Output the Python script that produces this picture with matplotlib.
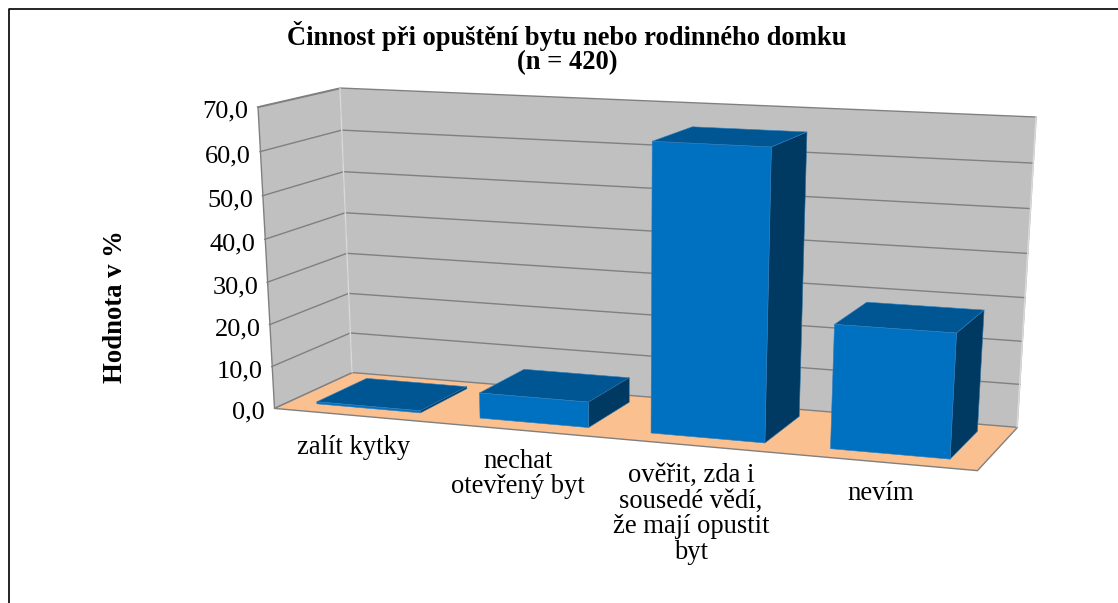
import numpy as np
import matplotlib
matplotlib.use('Agg')
import matplotlib.pyplot as plt
from matplotlib.lines import Line2D
from mpl_toolkits.mplot3d.art3d import Poly3DCollection

plt.rcParams['font.family'] = ['Liberation Serif', 'DejaVu Sans']

categories = ['zalít kytky', 'nechat\notevřený byt',
              'ověřit, zda i\nsousedé vědí,\nže mají opustit\nbyt', 'nevím']
values = [0.5, 6.0, 65.5, 28.0]
yticks = [0, 10, 20, 30, 40, 50, 60, 70]
ytick_labels = ['0,0', '10,0', '20,0', '30,0', '40,0', '50,0', '60,0', '70,0']
title = 'Činnost při opuštění bytu nebo rodinného domku\n(n = 420)'
ylabel = 'Hodnota v %'

W, H = 1118, 603

# box corners (cat, depth, value) and where they land in the picture, used to fit the camera
box = np.array([[0, 0, 0], [0, 1, 0], [0, 1, 70], [0, 0, 70], [4, 1, 70], [4, 1, 0], [4, 0, 0]], float)
pix = np.array([[274, 408], [352, 372], [340, 88], [257.5, 107], [1036, 117], [1017, 427], [977, 470]], float)


def fit_camera(world, image):
    rows = []
    for (x, y, z), (u, v) in zip(world, image):
        p = [x, y, z, 1]
        rows.append(p + [0, 0, 0, 0] + [-u * c for c in p])
        rows.append([0, 0, 0, 0] + p + [-v * c for c in p])
    s = np.array([1, 1, .05, 1] * 3)
    vt = np.linalg.svd(np.array(rows) * s)[2]
    cam = (vt[-1] * s).reshape(3, 4)
    return -cam if cam[2, 3] < 0 else cam


camera = fit_camera(box, pix)

fig = plt.figure(figsize=(W / 100, H / 100), dpi=100, facecolor='white')
# 3d axes insist on a square box, so make it cover the whole figure
ax = fig.add_axes([0, (1 - W / H) / 2, 1, W / H], projection='3d')
ax.set_axis_off()
ax.computed_zorder = False


def get_proj():
    to_display = np.array([[1, 0, 0], [0, -1, H], [0, 0, 1]], float) @ camera
    to_data = ax.transData.inverted().get_matrix() @ to_display
    # third row keeps depth sorting right: further away means larger 1/w term
    return np.vstack([to_data[0], to_data[1], [0, 0, 0, -1], to_data[2]])


ax.get_proj = get_proj


def to_pixel(x, y, z):
    h = camera @ np.array([x, y, z, 1.0])
    return h[0] / h[2], h[1] / h[2]


n = len(categories)
top = yticks[-1]
wall_c = '#C0C0C0'
grid_c = '#808080'

left_wall = [[(0, 0, 0), (0, 1, 0), (0, 1, top), (0, 0, top)]]
back_wall = [[(0, 1, 0), (n, 1, 0), (n, 1, top), (0, 1, top)]]
floor = [[(0, 0, 0), (n, 0, 0), (n, 1, 0), (0, 1, 0)]]
ax.add_collection3d(Poly3DCollection(left_wall, facecolors=wall_c, edgecolors=grid_c, linewidths=1, zorder=1))
ax.add_collection3d(Poly3DCollection(back_wall, facecolors=wall_c, edgecolors=wall_c, linewidths=0.5, zorder=1))
ax.add_collection3d(Poly3DCollection(floor, facecolors='#FAC090', edgecolors=grid_c, linewidths=1, zorder=2))

for t in yticks[1:]:
    ax.plot([0, 0, n], [0, 1, 1], [t, t, t], color=grid_c, lw=1, zorder=3)
ax.plot([n, n], [1, 1], [0, top], color='#D9D9D9', lw=1, zorder=3)
ax.plot([0, 0], [1, 1], [0, top], color='#D9D9D9', lw=1, zorder=3)

bar_w = 0.64
bar_d = 0.65
front, side, cap = '#0070C0', '#003A63', '#005693'
# face order for bar3d: -z +z -y +y -x +x
face_cols = ['none', cap, front, 'none', 'none', side]
edge_cols = ['none', '#2F7FBF', '#2F7FBF', 'none', 'none', '#2F6F9F']
for i, v in enumerate(values):
    ax.bar3d(i + (1 - bar_w) / 2, 0.175, 0, bar_w, bar_d, v, color=face_cols,
             edgecolor=edge_cols, linewidth=0.4, shade=False, zorder=5 + i)

for t, lab in zip(yticks, ytick_labels):
    px, py = to_pixel(0, 0, t)
    fig.text((px - 9) / W, 1 - (py + 5) / H, lab, ha='right', va='center', fontsize=19, color='black')

label_pos = [(354, 447), (518, 474), (691, 514), (881, 493)]
for lab, (x, y) in zip(categories, label_pos):
    fig.text(x / W, 1 - y / H, lab, ha='center', va='center', fontsize=19.2,
             linespacing=1.05, color='black')

fig.text(567 / W, 1 - 48 / H, title, ha='center', va='center', fontsize=19.1,
         fontweight='bold', linespacing=0.98, color='black')
fig.text(116 / W, 1 - 307 / H, ylabel, ha='center', va='center', rotation=90,
         fontsize=19.2, fontweight='bold', color='black')

fig.add_artist(Line2D([8.5 / W, 8.5 / W, 1], [0, 1 - 9 / H, 1 - 9 / H], color='black', lw=1.2))

fig.savefig('out.png', dpi=100)
